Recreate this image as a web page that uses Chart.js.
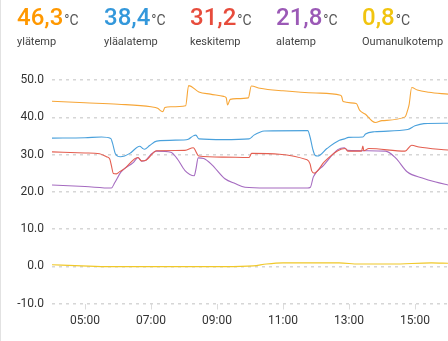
<!DOCTYPE html>
<html>
<head>
<meta charset="utf-8">
<script src="https://cdn.jsdelivr.net/npm/chart.js@4/dist/chart.umd.min.js"></script>
<style>
  html, body { margin: 0; padding: 0; background: #fff; }
  body { width: 448px; height: 341px; position: relative; overflow: hidden; font-family: Roboto, "Noto Sans", sans-serif; }
  #edge { position: absolute; left: 0; top: 0; width: 1px; height: 341px; background: #e2e2e2; }
  .st { position: absolute; top: 3px; white-space: nowrap; }
  .val { font-size: 24px; font-weight: 500; line-height: 28px; }
  .unit { font-size: 14px; color: #555; font-weight: 400; margin-left: 1px; }
  .lab { font-size: 11px; color: #444; margin-top: 1px; }
  #wrap { position: absolute; left: 0; top: 0; width: 448px; height: 341px; }
</style>
</head>
<body>
<div id="edge"></div>
<div id="wrap"><canvas id="c" width="448" height="341"></canvas></div>
<div id="hdr"></div>
<script>
// ---- data ----
const seriesNames = ["ylätemp", "yläalatemp", "keskitemp", "alatemp", "Oumanulkotemp"];
const currentValues = ["46,3", "38,4", "31,2", "21,8", "0,8"];
const unitLabel = "°C";

const ylaT = [4.0,5.0,6.0,7.0,7.2,7.32,7.36,7.42,7.6,8.05,8.14,8.45,8.8,9.2,9.28,9.32,9.4,9.6,9.95,10.04,10.3,11.0,12.0,12.74,12.78,12.82,13.22,13.32,13.5,13.7,13.8,14.0,14.7,14.78,14.82,14.9,15.07,15.42,16.0];
const ylaV = [44.3,43.9,43.5,42.8,42.4,41.6,41.5,42.6,42.8,43.1,48.5,46.8,46.2,45.6,45.2,43.3,44.8,45.0,45.2,48.4,47.8,47.1,46.5,45.9,45.5,44.2,43.7,41.9,40.8,39.0,38.6,39.1,40.1,42.0,43.3,48.0,47.3,46.7,46.2];

const ylaalaT = [4.0,5.0,5.5,5.78,5.85,5.92,6.07,6.2,6.36,6.66,6.74,6.8,6.96,7.17,8.0,8.13,8.28,8.36,8.45,9.2,9.97,10.12,10.3,10.43,11.75,11.82,11.9,11.97,12.05,12.33,12.71,12.86,12.99,13.42,13.5,13.77,14.78,15.0,15.27,16.0];
const ylaalaV = [34.4,34.5,34.7,34.3,32.5,30.2,29.4,29.6,30.3,32.2,31.7,31.4,32.4,33.6,33.9,34.1,35.0,35.2,34.2,34.0,34.2,35.2,36.0,36.3,36.4,34.7,31.5,29.8,29.6,31.6,33.8,34.2,34.6,34.7,35.5,36.1,36.7,37.7,38.3,38.4];

const keskiT = [4.0,5.0,5.44,5.65,5.75,5.8,5.86,5.95,6.05,6.2,6.6,6.71,6.83,7.17,8.03,8.28,8.45,9.2,9.97,10.05,11.73,11.82,11.87,11.95,12.25,12.66,12.89,12.96,13.38,13.42,13.45,13.6,14.7,14.9,15.12,16.0];
const keskiV = [30.7,30.4,30.2,29.4,28.8,27.0,24.9,24.8,25.4,26.2,29.2,28.3,28.4,31.0,31.1,31.8,29.6,29.3,29.2,30.3,28.6,27.5,25.6,25.0,28.0,31.0,31.6,30.9,30.9,32.3,31.0,31.6,30.9,32.5,32.0,31.2];

const alaT = [4.0,5.0,5.8,5.9,6.1,6.46,6.61,6.71,6.83,7.02,7.17,7.6,7.8,8.03,8.31,8.36,8.43,8.6,8.84,9.24,9.55,9.85,10.5,11.74,11.83,11.92,12.23,12.66,12.86,12.96,14.11,14.41,14.77,15.22,15.63,16.0];
const alaV = [21.8,21.4,21.0,22.4,25.4,27.8,29.2,28.2,28.4,30.2,30.9,30.6,28.8,25.7,24.3,26.0,29.1,28.9,27.3,23.5,22.2,21.2,21.0,21.0,21.2,24.0,27.1,31.3,31.8,31.1,30.9,29.1,25.3,23.7,22.6,21.8];

const ulkoT = [4.0,4.9,5.75,9.2,10.1,10.5,11.0,12.7,13.3,14.3,15.5,16.0];
const ulkoV = [0.4,0.1,-0.1,-0.1,0.1,0.6,0.9,0.9,0.6,0.6,0.9,0.8];

const xTickHours = [5, 7, 9, 11, 13, 15];
const yTickValues = [-10, 0, 10, 20, 30, 40, 50];

// ---- styling ----
const colors = ["#ff9800", "#3498db", "#e74c3c", "#9b59b6", "#f1c40f"];
const lineColors = ["#f7a637", "#4aa1dc", "#e45e50", "#a56bc0", "#f0c829"];
const xs = [ylaT, ylaalaT, keskiT, alaT, ulkoT];
const ys = [ylaV, ylaalaV, keskiV, alaV, ulkoV];

// header
const hdr = document.getElementById('hdr');
const lefts = [17, 104, 190, 276, 362];
seriesNames.forEach((n, i) => {
  const d = document.createElement('div');
  d.className = 'st';
  d.style.left = lefts[i] + 'px';
  d.innerHTML = '<div class="val" style="color:' + colors[i] + '">' + currentValues[i] +
    '<span class="unit">' + unitLabel + '</span></div><div class="lab">' + n + '</div>';
  hdr.appendChild(d);
});

const datasets = seriesNames.map((n, i) => ({
  label: n,
  data: xs[i].map((t, k) => ({ x: t, y: ys[i][k] })),
  borderColor: lineColors[i],
  backgroundColor: lineColors[i],
  borderWidth: 1.1,
  pointRadius: 0,
  cubicInterpolationMode: 'monotone',
  fill: false
}));

new Chart(document.getElementById('c'), {
  type: 'line',
  data: { datasets },
  options: {
    responsive: false,
    animation: false,
    layout: { padding: { top: 80, right: 0, bottom: 0, left: 0 } },
    plugins: { legend: { display: false }, tooltip: { enabled: false } },
    scales: {
      x: {
        type: 'linear',
        min: 4, max: 16,
        afterBuildTicks: s => { s.ticks = xTickHours.map(v => ({ value: v })); },
        afterFit: s => { s.height = 37.5; },
        ticks: {
          color: '#333',
          font: { family: 'Roboto', size: 12 },
          padding: 4,
          maxRotation: 0,
          callback: v => (v < 10 ? '0' : '') + v + ':00'
        },
        grid: { drawOnChartArea: false, drawTicks: true, tickLength: 6, color: '#dcdcdc' },
        border: { display: false }
      },
      y: {
        min: -10, max: 50,
        afterBuildTicks: s => { s.ticks = yTickValues.map(v => ({ value: v })); },
        afterFit: s => { s.width = 52; },
        ticks: {
          color: '#333',
          font: { family: 'Roboto', size: 12 },
          padding: 8,
          callback: v => Number(v).toFixed(1)
        },
        grid: { color: '#d6d6d6', lineWidth: 1.5, drawTicks: false },
        border: { display: true, width: 0, color: 'rgba(0,0,0,0)', dash: [3, 4] }
      }
    }
  }
});
</script>
</body>
</html>
